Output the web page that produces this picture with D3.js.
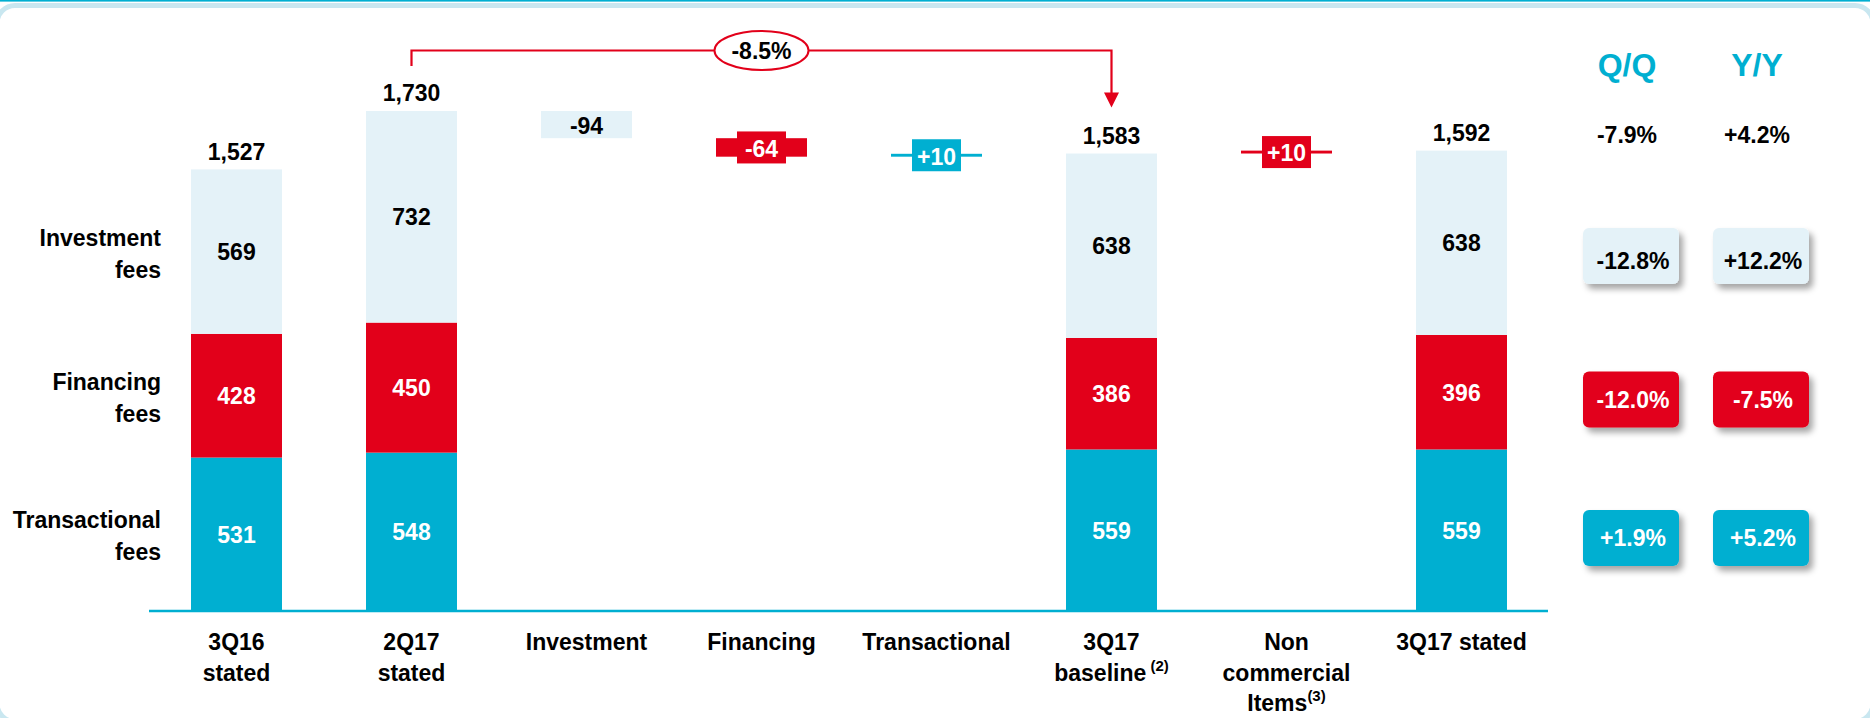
<!DOCTYPE html>
<html>
<head>
<meta charset="utf-8">
<script src="https://cdn.jsdelivr.net/npm/d3@7"></script>
<style>
  html, body { margin: 0; padding: 0; background: #fff; }
  svg { display: block; font-family: "Liberation Sans", Arial, sans-serif; font-weight: bold; }
</style>
</head>
<body>
<svg id="chart"></svg>
<script>
// ------------------------------------------------------------------
//  Fee income bridge 2Q17 -> 3Q17 (stacked bars + waterfall)
// ------------------------------------------------------------------

var width = 1870,
    height = 718;

// categories on the x axis (each entry = label lines)
var categories = ["3Q16", "2Q17", "Investment", "Financing", "Transactional", "3Q17 baseline", "Non commercial", "3Q17 stated"];
var categoryLines = [
  ["3Q16", "stated"],
  ["2Q17", "stated"],
  ["Investment"],
  ["Financing"],
  ["Transactional"],
  ["3Q17", "baseline", "(2)"],
  ["Non", "commercial", "Items", "(3)"],
  ["3Q17 stated"]
];

// stacked bars
var stackCats     = ["3Q16", "2Q17", "3Q17 baseline", "3Q17 stated"];
var transactional = [531, 548, 559, 559];
var financing     = [428, 450, 386, 396];
var investment    = [569, 732, 638, 638];
var totals        = [1527, 1730, 1583, 1592];

// waterfall steps
var stepCats   = ["Investment", "Financing", "Transactional", "Non commercial"];
var stepValues = [-94, -64, 10, 10];
var stepFrom   = ["2Q17", "2Q17", "2Q17", "3Q17 baseline"]; // running total starts at this bar
var stepColour = ["light", "red", "teal", "red"];

// bracket change
var bracketFrom = "2Q17", bracketTo = "3Q17 baseline", bracketLabel = "-8.5%";

// right hand table
var rowNames   = [["Investment", "fees"], ["Financing", "fees"], ["Transactional", "fees"]];
var totalQQ = "-7.9%", totalYY = "+4.2%";
var qq = ["-12.8%", "-12.0%", "+1.9%"];
var yy = ["+12.2%", "-7.5%", "+5.2%"];

var colours = { light: "#E4F2F8", red: "#E2001A", teal: "#00AFD1" };
var segColour = [colours.teal, colours.red, colours.light];
var segText   = ["#fff", "#fff", "#000"];

var svg = d3.select("#chart")
  .attr("width", width)
  .attr("height", height)
  .attr("viewBox", `0 0 ${width} ${height}`);

// shadow for badges
var defs = svg.append("defs");
var f = defs.append("filter").attr("id", "shadow")
  .attr("x", "-20%").attr("y", "-20%").attr("width", "150%").attr("height", "160%");
f.append("feDropShadow").attr("dx", 4).attr("dy", 5).attr("stdDeviation", 3)
  .attr("flood-color", "#000").attr("flood-opacity", 0.35);

// panel frame
svg.append("rect")
  .attr("x", -3).attr("y", 5.5).attr("width", 1876).attr("height", 716)
  .attr("rx", 18)
  .attr("fill", "none").attr("stroke", "#C9E7F0").attr("stroke-width", 5);
svg.append("rect")
  .attr("x", 0).attr("y", 0).attr("width", width).attr("height", 1.6)
  .attr("fill", "#00AFD1");

// scales
var x = d3.scaleBand()
  .domain(categories)
  .range([149, 1549])
  .paddingInner(0.48)
  .paddingOuter(0.24);

var y = d3.scaleLinear()
  .domain([0, 2000])
  .range([611, 611 - 2000 * 0.289]);

var bw = x.bandwidth();

// ---- stacked bars
var series = [transactional, financing, investment];
stackCats.forEach(function (c, i) {
  var base = 0;
  series.forEach(function (s, k) {
    var v = s[i];
    var g = svg.append("g");
    g.append("rect")
      .attr("x", x(c)).attr("width", bw)
      .attr("y", y(base + v)).attr("height", y(base) - y(base + v))
      .attr("fill", segColour[k]);
    g.append("text")
      .attr("x", x(c) + bw / 2)
      .attr("y", (y(base) + y(base + v)) / 2)
      .attr("dy", "0.36em")
      .attr("text-anchor", "middle")
      .attr("font-size", 23)
      .attr("fill", segText[k])
      .text(v);
    base += v;
  });
  svg.append("text")
    .attr("x", x(c) + bw / 2)
    .attr("y", y(base) - 18)
    .attr("dy", "0.36em")
    .attr("text-anchor", "middle")
    .attr("font-size", 23)
    .attr("fill", "#000")
    .text(d3.format(",")(totals[i]));
});

// ---- waterfall steps
var running = {};
stepCats.forEach(function (c, i) {
  var fromIdx = stackCats.indexOf(stepFrom[i]);
  var start;
  if (i > 0 && stepFrom[i] === stepFrom[i - 1]) start = running.last;
  else start = investment[fromIdx] + financing[fromIdx] + transactional[fromIdx];
  if (stepFrom[i] === "3Q17 baseline") start = totals[fromIdx];
  var end = start + stepValues[i];
  running.last = end;

  var top = y(Math.max(start, end)), bot = y(Math.min(start, end));
  var col = colours[stepColour[i]];
  var label = (stepValues[i] > 0 ? "+" : "") + stepValues[i];
  var cx = x(c) + bw / 2, cy = (top + bot) / 2;

  svg.append("rect")
    .attr("x", x(c)).attr("width", bw)
    .attr("y", top).attr("height", Math.max(bot - top, 2))
    .attr("fill", col);

  if (stepColour[i] !== "light") {
    var bx = 49;
    svg.append("rect")
      .attr("x", cx - bx / 2).attr("y", cy - 16)
      .attr("width", bx).attr("height", 32)
      .attr("fill", col);
  }
  svg.append("text")
    .attr("x", cx).attr("y", cy + 1)
    .attr("dy", "0.36em")
    .attr("text-anchor", "middle")
    .attr("font-size", 23)
    .attr("fill", stepColour[i] === "light" ? "#000" : "#fff")
    .text(label);
});

// ---- bracket -8.5%
var bx1 = x(bracketFrom) + bw / 2,
    bx2 = x(bracketTo) + bw / 2,
    byTop = 50.5;
var i2 = stackCats.indexOf(bracketTo);
var arrowTip = y(investment[i2] + financing[i2] + transactional[i2]) - 46;
svg.append("path")
  .attr("d", `M${bx1},66 V${byTop} H${bx2} V${arrowTip - 14}`)
  .attr("fill", "none").attr("stroke", colours.red).attr("stroke-width", 2.2);
svg.append("path")
  .attr("d", `M${bx2 - 7.5},${arrowTip - 15} L${bx2 + 7.5},${arrowTip - 15} L${bx2},${arrowTip} Z`)
  .attr("fill", colours.red);
var ex = x("Financing") + bw / 2;
svg.append("ellipse")
  .attr("cx", ex).attr("cy", byTop).attr("rx", 47).attr("ry", 19.5)
  .attr("fill", "#fff").attr("stroke", colours.red).attr("stroke-width", 2);
svg.append("text")
  .attr("x", ex).attr("y", byTop).attr("dy", "0.36em")
  .attr("text-anchor", "middle").attr("font-size", 23).attr("fill", "#000")
  .text(bracketLabel);

// ---- x axis
svg.append("g")
  .attr("transform", "translate(0,611)")
  .call(d3.axisBottom(x).tickSize(0).tickFormat(""))
  .call(function (g) {
    g.select(".domain").attr("stroke", "#00AFD1").attr("stroke-width", 2.5)
      .attr("d", "M149,0H1548");
  });

categories.forEach(function (c, i) {
  var lines = categoryLines[i];
  var t = svg.append("text")
    .attr("x", x(c) + bw / 2)
    .attr("text-anchor", "middle")
    .attr("font-size", 23)
    .attr("fill", "#000");
  var row = 0;
  lines.forEach(function (l) {
    if (l.charAt(0) === "(") {
      // footnote mark, raised
      t.append("tspan")
        .attr("font-size", 15)
        .attr("dy", -10)
        .text((lines[row - 1] === "Items" ? "" : "\u00a0") + l);
      return;
    }
    t.append("tspan")
      .attr("x", x(c) + bw / 2)
      .attr("y", 650 + row * 30.5)
      .text(l);
    row++;
  });
});

// ---- row labels on the left
var rowCentres = [254, 397.5, 536];
rowNames.forEach(function (r, i) {
  var t = svg.append("text")
    .attr("text-anchor", "end")
    .attr("font-size", 23)
    .attr("fill", "#000");
  r.forEach(function (l, k) {
    t.append("tspan")
      .attr("x", 161)
      .attr("y", rowCentres[i] - 16 + k * 32)
      .attr("dy", "0.36em")
      .text(l);
  });
});

// ---- Q/Q and Y/Y table
var colX = [1631, 1761];
["Q/Q", "Y/Y"].forEach(function (h, k) {
  svg.append("text")
    .attr("x", colX[k] - 4).attr("y", 64).attr("dy", "0.36em")
    .attr("text-anchor", "middle").attr("font-size", 32)
    .attr("fill", "#00AFD1")
    .text(h);
});
[totalQQ, totalYY].forEach(function (v, k) {
  svg.append("text")
    .attr("x", colX[k] - 4).attr("y", 135).attr("dy", "0.36em")
    .attr("text-anchor", "middle").attr("font-size", 23)
    .attr("fill", "#000")
    .text(v);
});

var badgeFill = [colours.light, colours.red, colours.teal];
var badgeText = ["#000", "#fff", "#fff"];
[qq, yy].forEach(function (col, k) {
  col.forEach(function (v, i) {
    var cx = colX[k], cy = rowCentres[i] + 2;
    svg.append("rect")
      .attr("x", cx - 48).attr("y", cy - 28)
      .attr("width", 96).attr("height", 56)
      .attr("rx", 6)
      .attr("fill", badgeFill[i])
      .attr("filter", "url(#shadow)");
    svg.append("text")
      .attr("x", cx + 2).attr("y", cy + (i === 0 ? 5 : 0)).attr("dy", "0.36em")
      .attr("text-anchor", "middle").attr("font-size", 23)
      .attr("fill", badgeText[i])
      .text(v);
  });
});
</script>
</body>
</html>
